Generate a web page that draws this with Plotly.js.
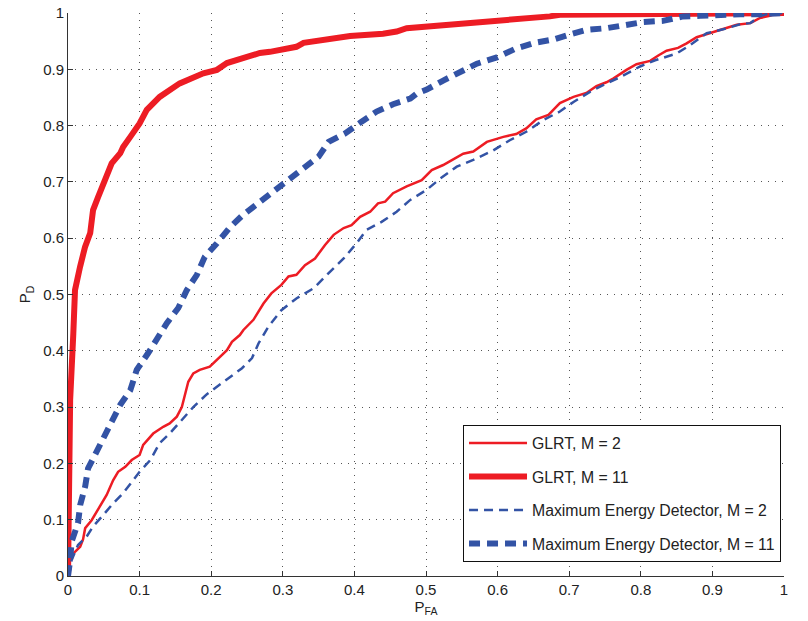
<!DOCTYPE html>
<html>
<head>
<meta charset="utf-8">
<script src="https://cdn.plot.ly/plotly-3.0.1.min.js"></script>
<style>html,body{margin:0;padding:0;background:#fff;}#chart{width:808px;height:621px;}</style>
</head>
<body>
<div id="chart"></div>
<script>
// GLRT, M = 2
const glrt2X = [0, 0.001, 0.003, 0.0075, 0.017, 0.021, 0.024, 0.033, 0.045, 0.054, 0.063, 0.070, 0.080, 0.089, 0.100, 0.105, 0.119, 0.133, 0.142, 0.152, 0.159, 0.163, 0.168, 0.175, 0.184, 0.198, 0.212, 0.222, 0.229, 0.240, 0.245, 0.259, 0.273, 0.284, 0.298, 0.308, 0.319, 0.331, 0.345, 0.359, 0.371, 0.385, 0.396, 0.408, 0.422, 0.433, 0.443, 0.454, 0.473, 0.494, 0.508, 0.524, 0.538, 0.552, 0.566, 0.585, 0.608, 0.626, 0.640, 0.654, 0.671, 0.687, 0.706, 0.724, 0.738, 0.752, 0.762, 0.780, 0.794, 0.813, 0.825, 0.836, 0.852, 0.864, 0.878, 0.897, 0.915, 0.934, 0.953, 0.966, 0.980, 0.990, 1.0];
const glrt2Y = [0, 0.015, 0.030, 0.040, 0.052, 0.065, 0.085, 0.099, 0.126, 0.144, 0.170, 0.185, 0.194, 0.206, 0.215, 0.233, 0.253, 0.265, 0.271, 0.283, 0.300, 0.318, 0.345, 0.360, 0.366, 0.372, 0.390, 0.401, 0.416, 0.428, 0.437, 0.455, 0.484, 0.502, 0.517, 0.532, 0.535, 0.552, 0.564, 0.588, 0.606, 0.618, 0.623, 0.638, 0.647, 0.662, 0.665, 0.680, 0.692, 0.703, 0.721, 0.730, 0.740, 0.750, 0.754, 0.771, 0.780, 0.785, 0.795, 0.811, 0.819, 0.840, 0.851, 0.858, 0.870, 0.877, 0.884, 0.899, 0.909, 0.915, 0.925, 0.933, 0.938, 0.946, 0.957, 0.964, 0.971, 0.979, 0.982, 0.991, 0.995, 1.0, 1.0];

// GLRT, M = 11
const glrt11X = [0, 0.0005, 0.001, 0.002, 0.003, 0.0074, 0.0098, 0.0168, 0.0237, 0.031, 0.035, 0.042, 0.054, 0.061, 0.073, 0.077, 0.087, 0.100, 0.110, 0.128, 0.156, 0.175, 0.189, 0.208, 0.222, 0.250, 0.268, 0.282, 0.319, 0.329, 0.357, 0.394, 0.440, 0.459, 0.473, 0.515, 0.561, 0.603, 0.673, 0.687, 0.743, 0.827, 1.0];
const glrt11Y = [0, 0.10, 0.20, 0.26, 0.313, 0.430, 0.508, 0.549, 0.584, 0.609, 0.650, 0.673, 0.709, 0.733, 0.751, 0.762, 0.780, 0.804, 0.828, 0.851, 0.875, 0.884, 0.893, 0.899, 0.911, 0.922, 0.929, 0.931, 0.940, 0.947, 0.953, 0.959, 0.963, 0.967, 0.973, 0.977, 0.982, 0.988, 0.994, 0.997, 0.998, 0.998, 1.0];

// Maximum Energy Detector, M = 2
const med2X = [0, 0.002, 0.005, 0.014, 0.026, 0.035, 0.049, 0.063, 0.077, 0.091, 0.100, 0.115, 0.128, 0.142, 0.159, 0.175, 0.194, 0.217, 0.243, 0.257, 0.266, 0.280, 0.298, 0.319, 0.343, 0.364, 0.385, 0.403, 0.417, 0.438, 0.459, 0.478, 0.501, 0.520, 0.543, 0.566, 0.594, 0.617, 0.640, 0.664, 0.687, 0.706, 0.729, 0.752, 0.771, 0.799, 0.820, 0.850, 0.869, 0.892, 0.915, 0.939, 0.953, 0.966, 0.980, 1.0];
const med2Y = [0, 0.005, 0.028, 0.055, 0.070, 0.088, 0.108, 0.129, 0.147, 0.170, 0.185, 0.206, 0.236, 0.253, 0.277, 0.300, 0.323, 0.345, 0.369, 0.387, 0.413, 0.443, 0.472, 0.493, 0.511, 0.538, 0.564, 0.591, 0.615, 0.629, 0.647, 0.668, 0.686, 0.706, 0.727, 0.739, 0.756, 0.774, 0.789, 0.810, 0.825, 0.842, 0.860, 0.875, 0.886, 0.905, 0.916, 0.928, 0.943, 0.964, 0.971, 0.980, 0.982, 0.994, 1.0, 1.0];

// Maximum Energy Detector, M = 11
const med11X = [0, 0.001, 0.003, 0.005, 0.014, 0.017, 0.024, 0.028, 0.040, 0.052, 0.063, 0.073, 0.087, 0.096, 0.112, 0.138, 0.154, 0.166, 0.180, 0.191, 0.208, 0.226, 0.244, 0.265, 0.284, 0.305, 0.328, 0.350, 0.364, 0.387, 0.410, 0.431, 0.454, 0.478, 0.487, 0.501, 0.524, 0.547, 0.571, 0.599, 0.624, 0.652, 0.678, 0.701, 0.724, 0.752, 0.780, 0.804, 0.831, 0.859, 0.883, 0.911, 0.939, 0.966, 1.0];
const med11Y = [0, 0.008, 0.028, 0.061, 0.094, 0.126, 0.159, 0.191, 0.221, 0.247, 0.274, 0.304, 0.330, 0.366, 0.396, 0.449, 0.476, 0.508, 0.535, 0.567, 0.591, 0.619, 0.641, 0.662, 0.681, 0.700, 0.722, 0.745, 0.771, 0.786, 0.807, 0.825, 0.838, 0.848, 0.857, 0.864, 0.880, 0.894, 0.910, 0.921, 0.936, 0.947, 0.953, 0.962, 0.970, 0.973, 0.979, 0.984, 0.986, 0.994, 0.995, 0.997, 0.998, 0.998, 1.0];

const seriesNames = ['GLRT, M = 2', 'GLRT, M = 11', 'Maximum Energy Detector, M = 2', 'Maximum Energy Detector, M = 11'];
const tickVals = [0, 0.1, 0.2, 0.3, 0.4, 0.5, 0.6, 0.7, 0.8, 0.9, 1];
const tickText = ['0', '0.1', '0.2', '0.3', '0.4', '0.5', '0.6', '0.7', '0.8', '0.9', '1'];

const RED = '#ED1C24';
const BLUE = '#3353A5';

const traces = [
  {x: glrt2X, y: glrt2Y, name: seriesNames[0], legendgroup: 'a', mode: 'lines', line: {color: RED, width: 2.5}},
  {x: glrt11X, y: glrt11Y, name: seriesNames[1], legendgroup: 'b', mode: 'lines', line: {color: RED, width: 6}},
  {x: med2X, y: med2Y, name: seriesNames[2], legendgroup: 'c', mode: 'lines', line: {color: BLUE, width: 2.5, dash: '9px,6px'}},
  {x: med11X, y: med11Y, name: seriesNames[3], legendgroup: 'd', mode: 'lines', line: {color: BLUE, width: 6, dash: '11px,7px'}}
];

const axisCommon = {
  range: [0, 1],
  tickmode: 'array',
  tickvals: tickVals,
  ticktext: tickText,
  ticks: 'inside',
  ticklen: 5,
  tickwidth: 1,
  tickcolor: '#333',
  showline: true,
  linecolor: '#333',
  linewidth: 1,
  mirror: false,
  showgrid: true,
  gridcolor: '#555',
  gridwidth: 1,
  griddash: '1px,6px',
  zeroline: false,
  tickfont: {family: 'Liberation Sans, Arial, sans-serif', size: 15, color: '#222'}
};

const layout = {
  width: 808,
  height: 621,
  margin: {l: 68, r: 24, t: 13, b: 45},
  paper_bgcolor: '#fff',
  plot_bgcolor: '#fff',
  font: {family: 'Liberation Sans, Arial, sans-serif', size: 15, color: '#222'},
  xaxis: Object.assign({}, axisCommon, {
    title: {text: 'P<sub>FA</sub>', font: {size: 15, color: '#222'}, standoff: 4}
  }),
  yaxis: Object.assign({}, axisCommon, {
    title: {text: 'P<sub>D</sub>', font: {size: 15, color: '#222'}, standoff: 8}
  }),
  showlegend: true,
  legend: {
    x: 0.5517, y: 0.268, xanchor: 'left', yanchor: 'top',
    bgcolor: '#fff',
    bordercolor: '#111',
    borderwidth: 1,
    font: {family: 'Liberation Sans, Arial, sans-serif', size: 15.8, color: '#222'},
    itemwidth: 58,
    tracegroupgap: 10,
    entrywidth: 342
  }
};

Plotly.newPlot('chart', traces, layout, {displayModeBar: false, staticPlot: true});
</script>
</body>
</html>
